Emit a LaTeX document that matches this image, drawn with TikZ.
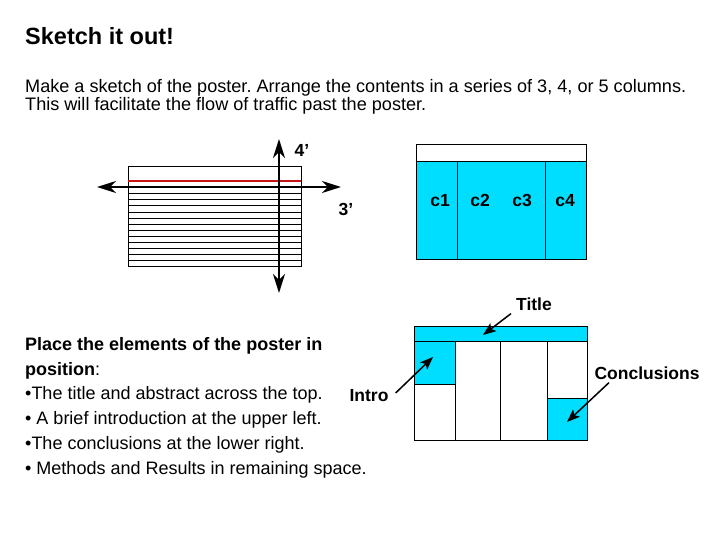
\documentclass[tikz,border=0pt]{standalone}
\usepackage{fontspec}
\setmainfont{Liberation Sans}
\frenchspacing
\usetikzlibrary{arrows.meta}
\definecolor{cyanposter}{RGB}{0,222,255}
\definecolor{rougeligne}{RGB}{200,20,20}
\tikzset{
	texte/.style={anchor=north west, inner sep=0pt, align=left},
	etiquette/.style={inner sep=1pt, font=\fontsize{17.5}{19}\selectfont\bfseries},
	cote/.style={line width=2pt, {Stealth[length=19pt,width=12pt,inset=6pt]}-{Stealth[length=19pt,width=12pt,inset=6pt]}},
	fleche/.style={line width=1.5pt, -{Stealth[length=13pt,width=10pt,inset=3pt]}}
}

\begin{document}
\begin{tikzpicture}[x=1pt, y=-1pt]
	\useasboundingbox (0,0) rectangle (720,540);
	%les textes
	\node[texte, font=\fontsize{23.5}{26}\selectfont\bfseries] (titre) at (25,27) {Sketch it out!};
	\node[texte, font=\fontsize{18.1}{18.5}\selectfont] (consigne) at (25,79) {Make a sketch of the poster. Arrange the contents in a series of 3, 4, or 5 columns.\\This will facilitate the flow of traffic past the poster.};
	\node[texte, font=\fontsize{18}{24.8}\selectfont] (liste) at (25,337) {\textbf{Place the elements of the poster in}\\\textbf{position}:\\•The title and abstract across the top.\\ • A brief introduction at the upper left.\\•The conclusions at the lower right.\\ • Methods and Results in remaining space.};
	%la feuille 4' x 3'
	\draw[line width=1pt] (128,167) rectangle (301,266);
	\draw[rougeligne, line width=1.4pt] (128,181) -- (301,181);
	\foreach \y in {193.7,199.8,205.9,212.0,218.1,224.2,230.3,236.4,242.5,248.6,254.7,260.8}
		\draw[line width=0.9pt] (128,\y) -- (301,\y);
	\coordinate (gauche) at (97,187);
	\coordinate (droite) at (341,187);
	\coordinate (haut) at (279,139);
	\coordinate (bas) at (279,293);
	\draw[cote] (gauche) -- (droite);
	\draw[cote] (bas) -- (haut);
	\node[etiquette] (quatre) at (302,150) {4’};
	\node[etiquette] (trois) at (346,209) {3’};
	%les colonnes
	\filldraw[fill=cyanposter, line width=1pt] (416,162) rectangle (586,259);
	\draw[line width=1pt] (416,145) rectangle (586,162);
	\draw[line width=1pt] (457,162) -- (457,259);
	\draw[line width=1pt] (545,162) -- (545,259);
	\node[etiquette, anchor=base] (c1) at (440,207) {c1};
	\node[etiquette, anchor=base] (c2) at (480,207) {c2};
	\node[etiquette, anchor=base] (c3) at (522,207) {c3};
	\node[etiquette, anchor=base] (c4) at (565,207) {c4};
	%le poster
	\filldraw[fill=cyanposter, line width=1pt] (414,326) rectangle (587,341);
	\filldraw[fill=cyanposter, line width=1pt] (414,341) rectangle (455,384);
	\filldraw[fill=cyanposter, line width=1pt] (547,398) rectangle (587,440);
	\draw[line width=1pt] (414,326) rectangle (587,440);
	\draw[line width=1pt] (455,341) -- (455,440);
	\draw[line width=1pt] (500,341) -- (500,440);
	\draw[line width=1pt] (547,341) -- (547,440);
	\node[etiquette] (nomtitre) at (534,304) {Title};
	\node[etiquette] (conclusions) at (647,373) {Conclusions};
	\node[etiquette] (introduction) at (369,396) {Intro};
	\coordinate (pointe titre) at (483,335);
	\coordinate (pointe intro) at (433,357);
	\coordinate (pointe concl) at (567,422);
	\draw[fleche] (nomtitre.south west) ++(-4,2) coordinate (depart titre) (depart titre) -- (pointe titre);
	\draw[fleche] (introduction.east) ++(6,-3) coordinate (depart intro) (depart intro) -- (pointe intro);
	\draw[fleche] (conclusions.south) ++(-38,2) coordinate (depart concl) (depart concl) -- (pointe concl);
\end{tikzpicture}
\end{document}
